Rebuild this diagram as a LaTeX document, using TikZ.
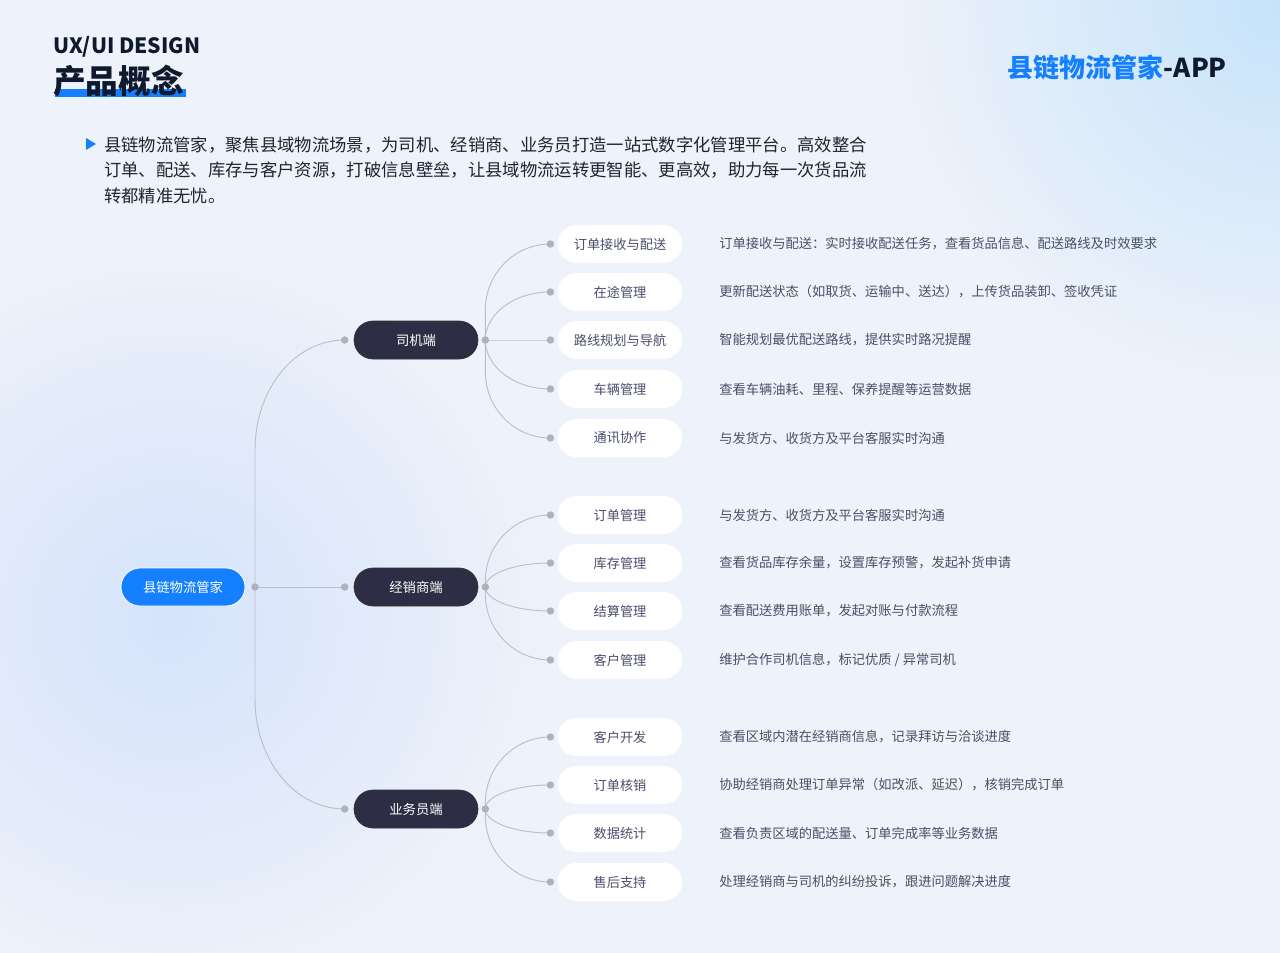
\documentclass[tikz,border=0pt]{standalone}
\usepackage{fontspec}
\setmainfont{Noto Sans CJK SC}
\usetikzlibrary{positioning,calc}
\definecolor{bgbase}{HTML}{EEF2FA}
\definecolor{glowleft}{HTML}{D5E3FB}
\definecolor{glowright}{HTML}{C6E3FA}
\definecolor{brandblue}{HTML}{1480FF}
\definecolor{titleink}{HTML}{101A2E}
\definecolor{bodyink}{HTML}{1E2433}
\definecolor{midnavy}{HTML}{2D2D45}
\definecolor{leafink}{HTML}{4A4E6C}
\definecolor{descink}{HTML}{4A4F66}
\definecolor{linkgray}{HTML}{BAC0C7}
\definecolor{dotgray}{HTML}{ADB3BA}

\tikzset{
  rootnode/.style={rounded corners=14.25pt,fill=brandblue,draw=white,line width=0.6pt,
    minimum width=93pt,minimum height=28.5pt,text=white,font=\fontsize{10}{12}\selectfont},
  midnode/.style={rounded corners=14.25pt,fill=midnavy,draw=black!80,line width=0.5pt,
    minimum width=93pt,minimum height=28.5pt,text=white,font=\fontsize{10}{12}\selectfont},
  leafnode/.style={rounded corners=14.25pt,fill=white,
    minimum width=93.5pt,minimum height=28.5pt,text=leafink,font=\fontsize{9.9}{12}\selectfont},
  desc/.style={anchor=west,inner sep=0pt,text=descink,font=\fontsize{9.95}{12}\selectfont},
  para/.style={anchor=west,inner sep=0pt,text=bodyink,font=\fontsize{13}{15}\selectfont},
  link/.style={draw=linkgray,line width=0.7pt},
}

\begin{document}
\begin{tikzpicture}[x=0.75pt,y=-0.75pt]
\useasboundingbox (0,0) rectangle (1280,952);
% background
\fill[bgbase] (-2,-2) rectangle (1282,954);
\begin{scope}
  \clip (0,0) rectangle (1280,952);
  \shade[inner color=glowleft,outer color=bgbase] (170,620) circle (290pt);
  \shade[inner color=glowright,outer color=bgbase] (1280,0) circle (300pt);
\end{scope}

% header
\fill[brandblue] (55,89) rectangle (186,97);
\node[anchor=west,inner sep=0pt,text=titleink,font=\fontsize{15.8}{18}\selectfont\bfseries] (design) at (53,47) {UX/UI DESIGN};
\node[anchor=west,inner sep=0pt,text=titleink,font=\fontsize{24.5}{26}\selectfont\bfseries] (concept) at (53,81) {产品概念};
\node[anchor=east,inner sep=0pt,font=\fontsize{19.5}{22}\selectfont\bfseries] (app) at (1227,68)
  {\textcolor{brandblue}{县链物流管家}\textcolor{titleink}{-APP}};

% intro
\fill[brandblue] (86,138) -- (96,144) -- (86,150) -- cycle;
\node[para] (line1) at (104,145) {县链物流管家，聚焦县域物流场景，为司机、经销商、业务员打造一站式数字化管理平台。高效整合};
\node[para] (line2) at (104,170) {订单、配送、库存与客户资源，打破信息壁垒，让县域物流运转更智能、更高效，助力每一次货品流};
\node[para] (line3) at (104,196) {转都精准无忧。};

% tree
\node[rootnode] (root) at (183,587) {县链物流管家};
\node[midnode] (mid1) at (416,340) {司机端};
\node[midnode] (mid2) at (416,587) {经销商端};
\node[midnode] (mid3) at (416,809) {业务员端};

\coordinate (rd) at (255,587);
\foreach \m in {1,2,3} {
  \coordinate (ml\m) at ($(mid\m.west)+(-9,0)$);
  \coordinate (mr\m) at ($(mid\m.east)+(7,0)$);
}
\draw[link] (rd) -- ++(0,-137) .. controls +(0,-61) and +(-50,0) .. (ml1);
\draw[link] (rd) -- (ml2);
\draw[link] (rd) -- ++(0,112) .. controls +(0,61) and +(-50,0) .. (ml3);

\foreach \m/\my/\ly/\name/\txt [count=\i] in {
  1/340/244/{订单接收与配送}/{订单接收与配送：实时接收配送任务，查看货品信息、配送路线及时效要求},
  1/340/292/{在途管理}/{更新配送状态（如取货、运输中、送达），上传货品装卸、签收凭证},
  1/340/340/{路线规划与导航}/{智能规划最优配送路线，提供实时路况提醒},
  1/340/389/{车辆管理}/{查看车辆油耗、里程、保养提醒等运营数据},
  1/340/438/{通讯协作}/{与发货方、收货方及平台客服实时沟通},
  2/587/515/{订单管理}/{与发货方、收货方及平台客服实时沟通},
  2/587/563/{库存管理}/{查看货品库存余量，设置库存预警，发起补货申请},
  2/587/611/{结算管理}/{查看配送费用账单，发起对账与付款流程},
  2/587/660/{客户管理}/{维护合作司机信息，标记优质 / 异常司机},
  3/809/737/{客户开发}/{查看区域内潜在经销商信息，记录拜访与洽谈进度},
  3/809/785/{订单核销}/{协助经销商处理订单异常（如改派、延迟），核销完成订单},
  3/809/833/{数据统计}/{查看负责区域的配送量、订单完成率等业务数据},
  3/809/882/{售后支持}/{处理经销商与司机的纠纷投诉，跟进问题解决进度}} {
  \node[leafnode] (leaf\i) at (620,\ly) {\name};
  \node[desc] (desc\i) at (719,\ly) {\txt};
  \coordinate (ld\i) at ($(leaf\i.west)+(-7,0)$);
  \pgfmathsetmacro\dy{\ly-\my}
  \pgfmathsetmacro\rv{sign(\dy)*min(abs(\dy),66)}
  \pgfmathsetmacro\st{\dy-\rv}
  \pgfmathsetmacro\cv{0.552*\rv}
  \draw[link] (mr\m) -- ++(0,\st) .. controls +(0,\cv) and +(-36,0) .. (ld\i);
  \fill[dotgray] (ld\i) circle (2.8pt);
}

% dots
\fill[dotgray] (rd) circle (2.8pt);
\foreach \m in {1,2,3} {
  \fill[dotgray] (ml\m) circle (2.8pt);
  \fill[dotgray] (mr\m) circle (2.8pt);
}
\end{tikzpicture}
\end{document}
